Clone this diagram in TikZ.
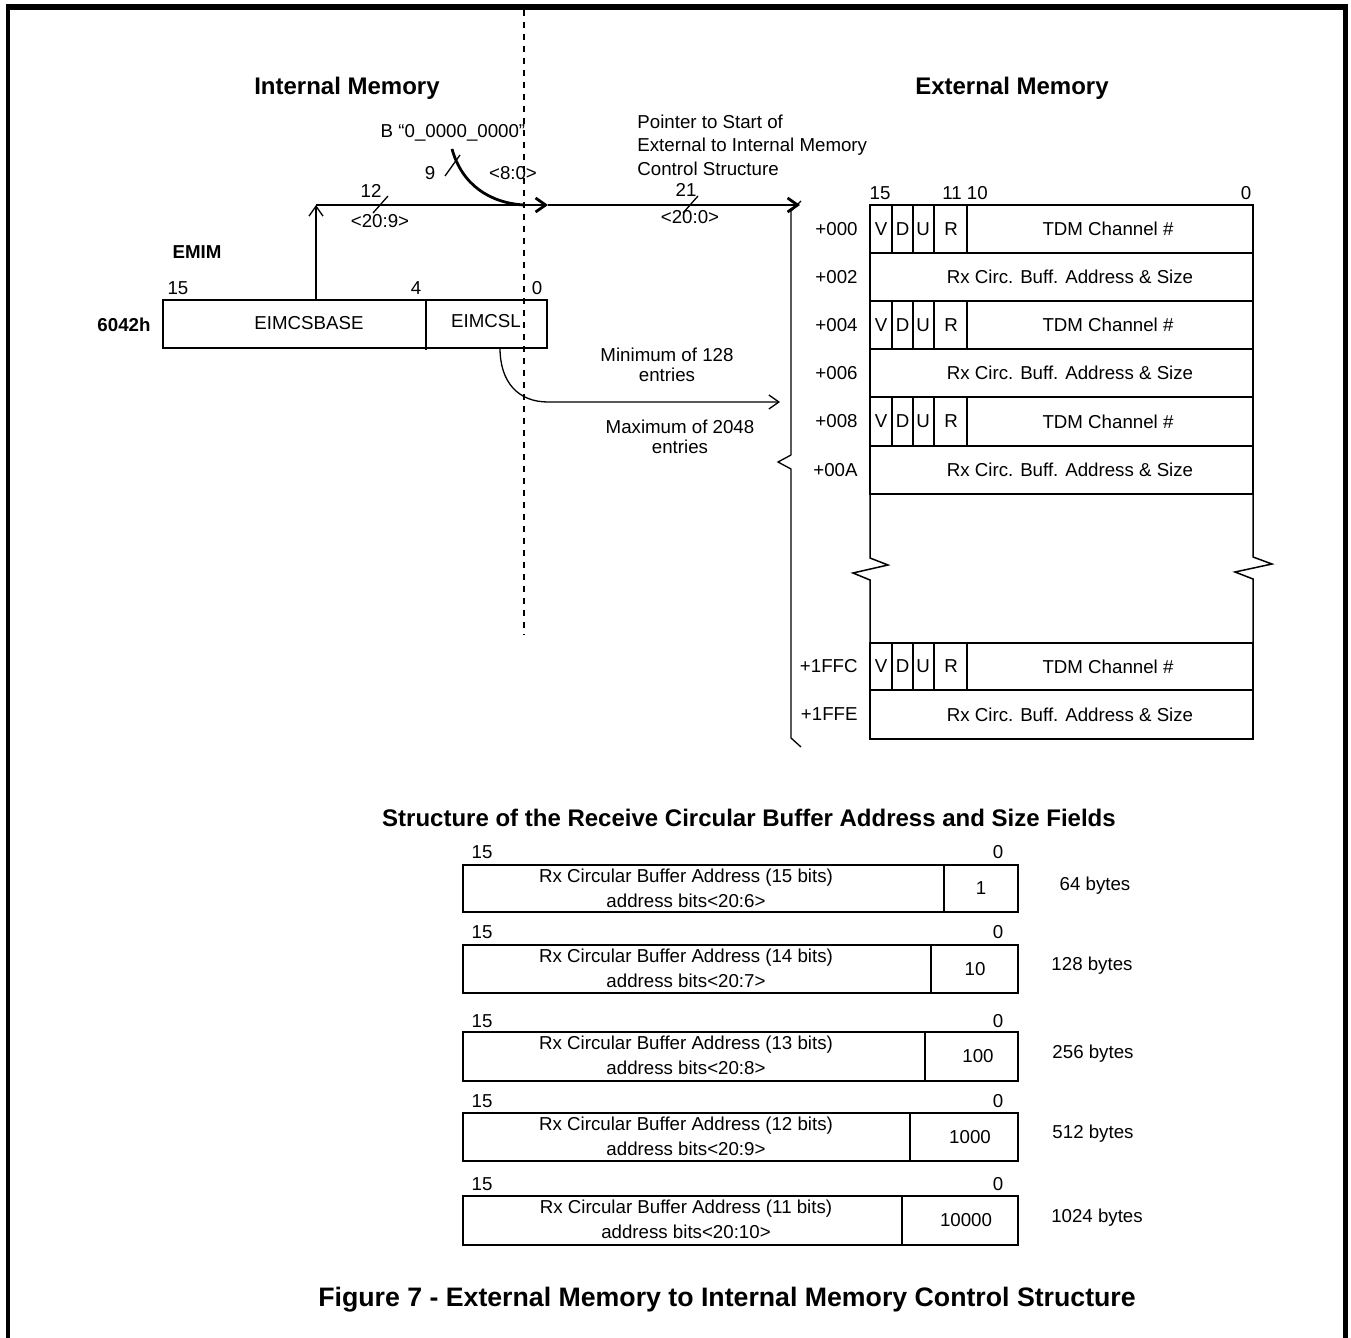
\documentclass[tikz,border=0pt]{standalone}
\usepackage{fontspec}
\setmainfont{Liberation Sans}
\usetikzlibrary{arrows.meta}
\begin{document}
\begin{tikzpicture}[x=0.5pt,y=-0.5pt,
  txt/.style={inner sep=0pt,font=\fontsize{9.35}{11.75}\selectfont},
  btxt/.style={inner sep=0pt,font=\fontsize{9.35}{11.75}\bfseries\selectfont},
  hdr/.style={inner sep=0pt,font=\fontsize{12}{14}\bfseries\selectfont},
  captxt/.style={inner sep=0pt,font=\fontsize{13.35}{15}\bfseries\selectfont},
  thinln/.style={line width=0.65pt},
  thickln/.style={line width=1.4pt},
  box/.style={draw,line width=0.75pt},
  barb/.style={-{Straight Barb[length=5pt,width=7pt]}},
  sideframe/.style={line width=2.2pt},
  topframe/.style={line width=3pt},
]
\useasboundingbox (0,0) rectangle (1351,1338);
% frame
\draw[sideframe] (8,4) -- (8,1338);
\draw[sideframe] (1345.5,4) -- (1345.5,1338);
\draw[topframe] (6,7) -- (1348,7);
% dashed divider
\draw[thinln,dash pattern=on 3pt off 3pt] (524,10) -- (524,635);
% headers
\node[hdr] (intm) at (347,88) {Internal Memory};
\node[hdr] (extm) at (1012,88) {External Memory};
% B value and its curve
\node[txt] (bval) at (453,133) {B “0\_0000\_0000”};
\coordinate (cstart) at (452,149);
\coordinate (junc) at (524,205);
\draw[thickln] (cstart) .. controls (462,185) and (490,203) .. (junc);
\draw[thinln] (445,176) -- (460,155);
\node[txt] (nine) at (430,173) {9};
\node[txt] (lo) at (513,173) {<8:0>};
% register EMIM
\node[btxt] (emim) at (197,252) {EMIM};
\node[btxt] (addr) at (124,325) {6042h};
\node[txt] at (178,288) {15};
\node[txt] at (416,288) {4};
\node[txt] at (537,288) {0};
\draw[box] (163,300) rectangle (547,348);
\draw[box] (426,300) -- (426,350);
\node[txt] (base) at (309,323) {EIMCSBASE};
\node[txt] (csl) at (486,321) {EIMCSL};
\coordinate (basetop) at (316,300);
\coordinate (corner) at (316,205);
\coordinate (mid) at (548,205);
\coordinate (ptr) at (800,205);
\draw[thinln,barb] (basetop) -- (corner);
\draw[thickln,barb] (corner) -- (mid);
\draw[thickln,barb] (mid) -- (ptr);
\draw[thinln] (373,213) -- (388,196);
\draw[thinln] (683,213) -- (698,196);
\node[txt] at (371,191) {12};
\node[txt] at (380,221) {<20:9>};
\node[txt] at (686,190) {21};
\node[txt] at (690,217) {<20:0>};
\node[txt,anchor=north west,align=left] (ptrtxt) at (637,114.5) {Pointer to Start of\\External to Internal Memory\\Control Structure};
% size curve
\coordinate (cslbot) at (500,348);
\coordinate (sizeend) at (780,402);
\draw[thinln,barb] (cslbot) .. controls (500,382) and (518,402) .. (548,402) -- (sizeend);
\node[txt,align=center,font=\fontsize{9.35}{10}\selectfont] at (667,365) {Minimum of 128\\entries};
\node[txt,align=center,font=\fontsize{9.35}{10}\selectfont] at (680,437) {Maximum of 2048\\entries};
% brace
\draw[thinln] (801,201) -- (791,211) -- (791,455) -- (778,462) -- (791,469) -- (791,738) -- (801,747);
% external table
\node[txt] at (880,193) {15};
\node[txt] at (965,193) {11 10};
\node[txt] at (1246,193) {0};
\foreach \ya/\yb/\lab in {205/253/+000, 301/349/+004, 397/446/+008, 643/690/+1FFC} {
  \draw[box] (870,\ya) rectangle (1253,\yb);
  \draw[line width=1.1pt] (892,\ya) -- (892,\yb);
  \draw[line width=1.1pt] (913,\ya) -- (913,\yb);
  \draw[box] (934,\ya) -- (934,\yb);
  \draw[box] (967,\ya) -- (967,\yb);
  \node[txt] at (881,{(\ya+\yb)/2}) {V};
  \node[txt] at (902.5,{(\ya+\yb)/2}) {D};
  \node[txt] at (923,{(\ya+\yb)/2}) {U};
  \node[txt] at (951,{(\ya+\yb)/2}) {R};
  \node[txt] at (1108,{(\ya+\yb)/2}) {TDM Channel \#};
  \node[txt,anchor=east] at (858,{(\ya+\yb)/2}) {\lab};
}
\foreach \ya/\yb/\lab in {253/301/+002, 349/397/+006, 446/494/+00A, 690/739/+1FFE} {
  \draw[box] (870,\ya) rectangle (1253,\yb);
  \node[txt] at (1070,{(\ya+\yb)/2}) {Rx Circ. Buff. Address \& Size};
  \node[txt,anchor=east] at (858,{(\ya+\yb)/2}) {\lab};
}
\draw[box] (870,494) -- (870,558) -- (888,565) -- (853,573) -- (870,580) -- (870,643);
\draw[box] (1253,494) -- (1253,557) -- (1272,564) -- (1235,572) -- (1253,579) -- (1253,643);
% bottom structure
\node[hdr] (strhdr) at (749,818) {Structure of the Receive Circular Buffer Address and Size Fields};
\foreach \la/\ya/\yb/\dv/\vl/\vx/\bt/\bx/\nb/\kk in {
  852/865/912/944/1/981/64 bytes/1095/15/6,
  932/945/993/931/10/975/128 bytes/1092/14/7,
  1021/1032/1081/925/100/978/256 bytes/1093/13/8,
  1101/1113/1161/910/1000/970/512 bytes/1093/12/9,
  1184/1196/1245/902/10000/966/1024 bytes/1097/11/10} {
  \node[txt] at (482,\la) {15};
  \node[txt] at (998,\la) {0};
  \draw[box] (463,\ya) rectangle (1018,\yb);
  \draw[box] (\dv,\ya) -- (\dv,\yb);
  \node[txt] at (686,{\ya+13}) {Rx Circular Buffer Address (\nb\ bits)};
  \node[txt] at (686,{\ya+36}) {address bits<20:\kk>};
  \node[txt] at (\vx,{(\ya+\yb)/2}) {\vl};
  \node[txt] at (\bx,{(\ya+\yb)/2-3}) {\bt};
}
\node[captxt] (caption) at (727,1300) {Figure 7 - External Memory to Internal Memory Control Structure};
\end{tikzpicture}
\end{document}
